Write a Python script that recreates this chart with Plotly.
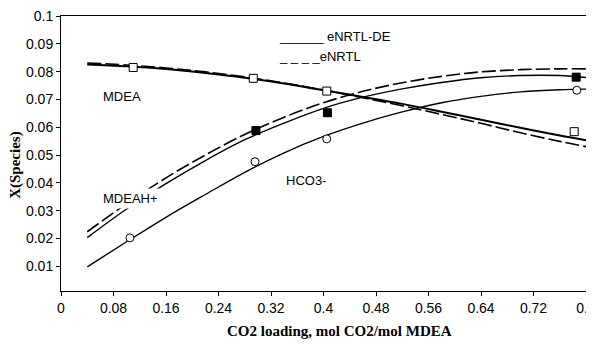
import plotly.graph_objects as go

# model curve points
x_model = [0.04, 0.1, 0.16, 0.22, 0.28, 0.34, 0.4, 0.46, 0.52, 0.58, 0.64, 0.7, 0.76, 0.8]
mdea_de = [0.0826, 0.0819, 0.0809, 0.0795, 0.0778, 0.0757, 0.0733, 0.0709, 0.0684, 0.0656, 0.0627, 0.0598, 0.0570, 0.0553]
mdea_nr = [0.0831, 0.0824, 0.0813, 0.0799, 0.0781, 0.0759, 0.0734, 0.0706, 0.0677, 0.0646, 0.0614, 0.0580, 0.0549, 0.0530]
mdeah_de = [0.0203, 0.0306, 0.0397, 0.0480, 0.0555, 0.0615, 0.0668, 0.0708, 0.0738, 0.0761, 0.0778, 0.0786, 0.0786, 0.0779]
mdeah_nr = [0.0224, 0.0325, 0.0418, 0.0500, 0.0574, 0.0636, 0.0688, 0.0729, 0.0760, 0.0783, 0.0799, 0.0807, 0.0810, 0.0810]
hco3_de = [0.0098, 0.0188, 0.0276, 0.0358, 0.0438, 0.0508, 0.0567, 0.0615, 0.0655, 0.0688, 0.0711, 0.0727, 0.0735, 0.0737]

# experimental points
x_mdea_exp = [0.11, 0.293, 0.405, 0.782]
y_mdea_exp = [0.0815, 0.0776, 0.0730, 0.0584]
x_mdeah_exp = [0.297, 0.406, 0.785]
y_mdeah_exp = [0.0588, 0.0652, 0.0780]
x_hco3_exp = [0.105, 0.2956, 0.405, 0.786]
y_hco3_exp = [0.0202, 0.0476, 0.0558, 0.0733]

x_ticks = [0, 0.08, 0.16, 0.24, 0.32, 0.4, 0.48, 0.56, 0.64, 0.72, 0.8]
x_tick_text = ["0", "0.08", "0.16", "0.24", "0.32", "0.4", "0.48", "0.56", "0.64", "0.72", "0.8"]
y_ticks = [0.01, 0.02, 0.03, 0.04, 0.05, 0.06, 0.07, 0.08, 0.09, 0.1]
y_tick_text = ["0.01", "0.02", "0.03", "0.04", "0.05", "0.06", "0.07", "0.08", "0.09", "0.1"]

x_title = "CO2 loading, mol CO2/mol MDEA"
y_title = "X(Species)"

DASH = "14px,4px"
fig = go.Figure()

def line(y, dash, width=1.5):
    fig.add_trace(go.Scatter(x=x_model, y=y, mode="lines", line_shape="spline",
                             line=dict(color="black", width=width, dash=dash),
                             showlegend=False, hoverinfo="skip"))

line(mdea_nr, DASH, 1.6)
line(mdea_de, "solid", 2)
line(mdeah_nr, DASH, 1.6)
line(mdeah_de, "solid", 1.4)
line(hco3_de, "solid", 1.4)

fig.add_trace(go.Scatter(x=x_mdea_exp, y=y_mdea_exp, mode="markers",
                         marker=dict(symbol="square", size=8, color="white",
                                     line=dict(color="black", width=1)), showlegend=False))
fig.add_trace(go.Scatter(x=x_mdeah_exp, y=y_mdeah_exp, mode="markers",
                         marker=dict(symbol="square", size=8, color="black",
                                     line=dict(color="black", width=1)), showlegend=False))
fig.add_trace(go.Scatter(x=x_hco3_exp, y=y_hco3_exp, mode="markers",
                         marker=dict(symbol="circle", size=8, color="white",
                                     line=dict(color="black", width=1)), showlegend=False))

lab_font = dict(family="Liberation Sans, Arial", size=13, color="black")
fig.add_annotation(x=0.0925, y=0.0710, text="MDEA", showarrow=False, font=lab_font)
fig.add_annotation(x=0.373, y=0.0407, text="HCO3-", showarrow=False, font=lab_font)
fig.add_annotation(x=0.106, y=0.0342, text="MDEAH+", showarrow=False, font=lab_font,
                   bgcolor="white", borderpad=2)
fig.add_annotation(x=0.329, y=0.0925, text="______ eNRTL-DE", showarrow=False, font=lab_font,
                   xanchor="left", yanchor="middle")
fig.add_annotation(x=0.329, y=0.0853, text="_ _ _ _eNRTL", showarrow=False, font=lab_font,
                   xanchor="left", yanchor="middle")

title_font = dict(family="Liberation Serif, Times New Roman", size=15, color="black")
fig.add_annotation(xref="paper", yref="paper", x=0.531, y=-0.145, text="<b>" + x_title + "</b>",
                   showarrow=False, font=title_font, xanchor="center", yanchor="middle")
fig.add_annotation(xref="paper", yref="paper", x=-0.088, y=0.458, text="<b>" + y_title + "</b>",
                   showarrow=False, font=title_font, textangle=-90,
                   xanchor="center", yanchor="middle")

axis_common = dict(showgrid=False, zeroline=False, showline=True, linecolor="black",
                   linewidth=1, mirror=True, ticks="outside", ticklen=4, tickcolor="black",
                   automargin=False, ticklabeloverflow="allow",
                   tickfont=dict(family="Liberation Sans, Arial", size=14, color="black"))
fig.update_xaxes(range=[0, 0.8], tickvals=x_ticks, ticktext=x_tick_text, **axis_common)
fig.update_yaxes(range=[0.0011, 0.1], tickvals=y_ticks, ticktext=y_tick_text, **axis_common)
# the page body has an 8px default margin, so the figure is offset to compensate
fig.update_layout(width=594, height=337, margin=dict(l=53, r=16, t=8, b=54),
                  paper_bgcolor="white", plot_bgcolor="white")
# hide page scrollbars (the figure is a little wider than the window)
fig.write_html("out.html",
               post_script="document.documentElement.style.overflow='hidden';document.body.style.overflow='hidden';")
